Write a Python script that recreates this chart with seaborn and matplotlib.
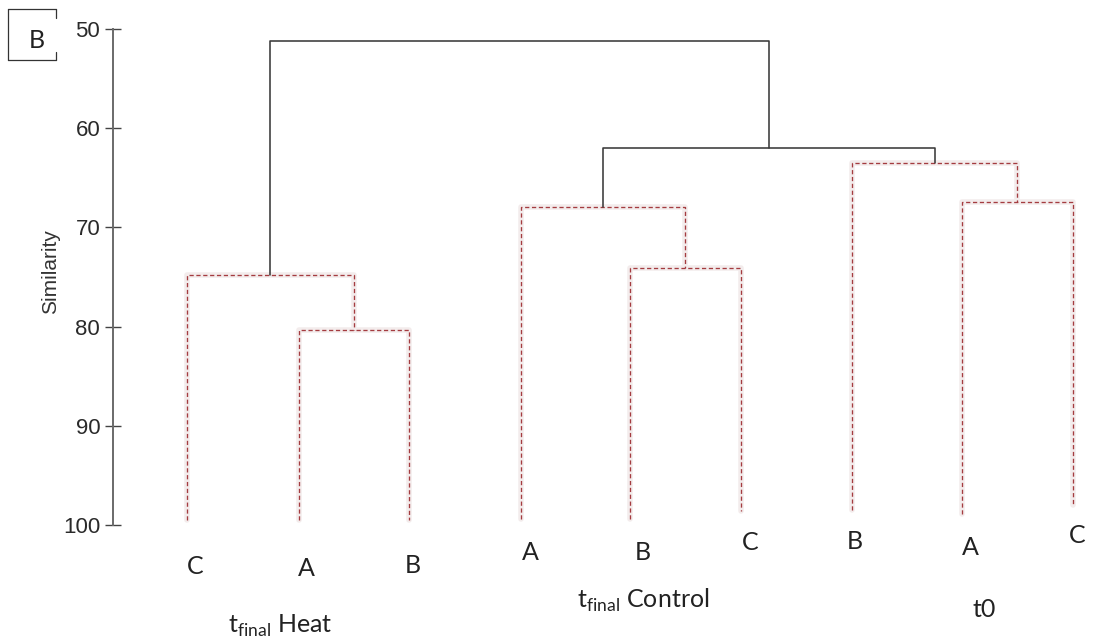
import matplotlib
matplotlib.use("Agg")
import matplotlib.pyplot as plt
import numpy as np
import pandas as pd
import seaborn as sns
from matplotlib.lines import Line2D
from matplotlib.transforms import blended_transform_factory

# ---- data -------------------------------------------------------------
# leaves (left to right) and the treatment group each replicate belongs to
leaf_labels = ["C", "A", "B", "A", "B", "C", "B", "A", "C"]
leaf_groups = ["Heat", "Heat", "Heat", "Control", "Control", "Control", "t0", "t0", "t0"]
# similarity at which each leaf stem ends
leaf_end = [99.5, 99.5, 99.5, 99.4, 99.4, 98.6, 98.5, 98.9, 98.0]

# agglomeration steps: node ids 0-8 are leaves, each merge creates node 9, 10, ...
merge_left = [1, 0, 4, 3, 7, 6, 12, 10]
merge_right = [2, 9, 5, 11, 8, 13, 14, 15]
merge_similarity = [80.3, 74.8, 74.1, 67.9, 67.4, 63.5, 62.0, 51.2]
merge_within_group = [True, True, True, True, True, True, False, False]

group_names = ["Heat", "Control", "t0"]
yticks = [50, 60, 70, 80, 90, 100]

# ---- layout -----------------------------------------------------------
W, H = 1095, 639
leaf_x = [187, 299, 409, 521, 630, 741, 852, 962, 1073]
label_x = [195, 306, 413, 530, 643, 750, 855, 970, 1077]
label_base_px = [574, 576, 573, 560, 560, 550, 549, 555, 543]
group_text = [r"t$_{\mathregular{final}}$ Heat", r"t$_{\mathregular{final}}$ Control", "t0"]
group_x = [280, 643, 984]
group_base_px = [633, 608, 617]

# ---- build link paths -------------------------------------------------
node_x = list(leaf_x)
node_y = list(leaf_end)
rows = []
for i, (l, r, s, w) in enumerate(zip(merge_left, merge_right, merge_similarity, merge_within_group)):
    xl, xr = node_x[l], node_x[r]
    yl, yr = node_y[l], node_y[r]
    kind = "within" if w else "between"
    for order, (px, py) in enumerate([(xl, yl), (xl, s), (xr, s), (xr, yr)]):
        rows.append({"link": i, "order": order, "x": px, "y": py, "kind": kind})
    node_x.append((xl + xr) / 2)
    node_y.append(s)
links = pd.DataFrame(rows)

# ---- figure -----------------------------------------------------------
sns.set_theme(style="white")
plt.rcParams["font.family"] = ["Lato", "DejaVu Sans"]
plt.rcParams["mathtext.fontset"] = "custom"
plt.rcParams["mathtext.rm"] = "Lato"

fig = plt.figure(figsize=(W / 100, H / 100), dpi=100)
ax = fig.add_axes([113 / W, (H - 525) / H, (W - 113) / W, 496 / H])

within = links[links["kind"] == "within"]
# soft halo beneath the dashed within-group links
sns.lineplot(data=within, x="x", y="y", units="link", estimator=None, sort=False,
             color="#f3ecec", linewidth=4.0, legend=False, ax=ax)
sns.lineplot(data=links, x="x", y="y", units="link", estimator=None, sort=False,
             hue="kind", palette={"within": "#a43c40", "between": "#3a3a3a"},
             style="kind", dashes={"within": (3.2, 2), "between": ""},
             size="kind", sizes={"within": 0.95, "between": 1.15},
             legend=False, ax=ax)

ax.set_xlim(113, W)
ax.set_ylim(100, 50)
ax.set_yticks(yticks)
ax.set_yticklabels([str(t) for t in yticks])
ax.set_xticks([])
ax.set_xlabel("")
ax.set_ylabel("")
for lbl in ax.get_yticklabels():
    lbl.set_fontfamily(["Liberation Sans Narrow", "Liberation Sans"])
    lbl.set_fontsize(16)
    lbl.set_color("#2a2a2a")
ax.tick_params(axis="y", direction="inout", length=11.5, width=1.0, color="#444444", pad=3.5, left=True)
for side in ["top", "right", "bottom"]:
    ax.spines[side].set_visible(False)
ax.spines["left"].set_color("#6a6a6a")
ax.spines["left"].set_linewidth(1.4)
ax.patch.set_alpha(0)

fig.text(51 / W, 1 - 272 / H, "Similarity", rotation=90, ha="center", va="center",
         fontsize=15, color="#333333", family=["Liberation Sans", "DejaVu Sans"])

trans = blended_transform_factory(ax.transData, fig.transFigure)
for lab, lx, by in zip(leaf_labels, label_x, label_base_px):
    ax.text(lx, 1 - by / H, lab, transform=trans, ha="center", va="baseline",
            fontsize=18, color="#222222", clip_on=False)
for txt, gx, by in zip(group_text, group_x, group_base_px):
    ax.text(gx, 1 - by / H, txt, transform=trans, ha="center", va="baseline",
            fontsize=18, color="#222222", clip_on=False)

# panel letter in a frame
def fig_line(x0, y0, x1, y1):
    fig.add_artist(Line2D([x0 / W, x1 / W], [1 - y0 / H, 1 - y1 / H],
                          transform=fig.transFigure, color="#333333", linewidth=0.9))

fig_line(8, 9, 56, 9)
fig_line(8, 9, 8, 60)
fig_line(8, 60, 56, 60)
fig_line(56, 9, 56, 18)
fig_line(56, 52, 56, 60)
fig.text(37 / W, 1 - 48 / H, "B", ha="center", va="baseline", fontsize=18, color="#222222")

fig.savefig("out.png", dpi=100)
